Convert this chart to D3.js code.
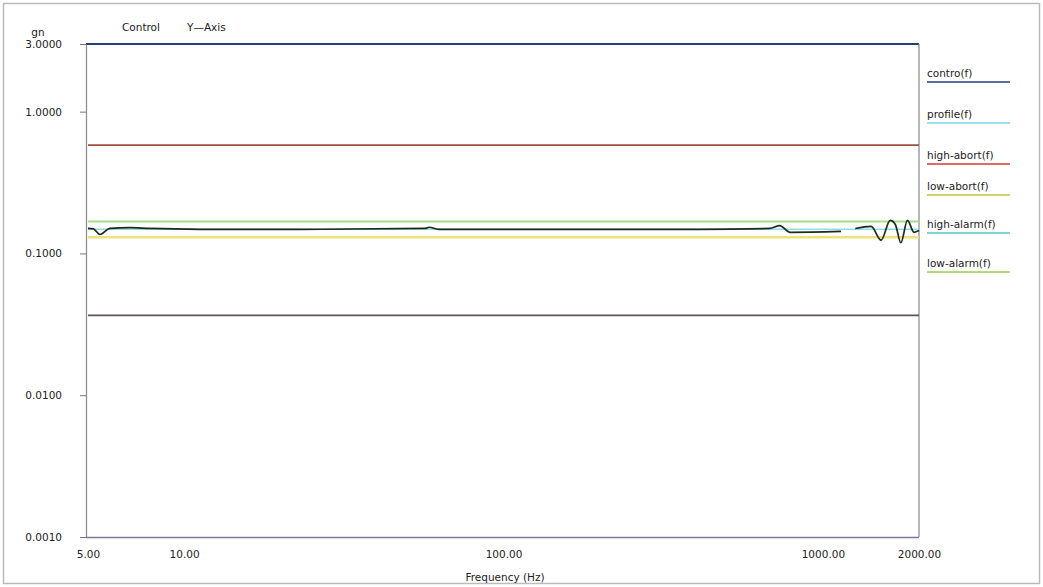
<!DOCTYPE html>
<html>
<head>
<meta charset="utf-8">
<script src="https://cdn.jsdelivr.net/npm/d3@7/dist/d3.min.js"></script>
<style>
  html, body { margin: 0; padding: 0; background: #fff; }
  svg { display: block; }
  text { font-family: "DejaVu Sans", "Liberation Sans", Arial, sans-serif; fill: #222; }
</style>
</head>
<body>
<svg id="chart" width="1043" height="587"></svg>
<script>
// ---- data ----
const xTickValues = [5, 10, 100, 1000, 2000];
const xTickLabels = ["5.00", "10.00", "100.00", "1000.00", "2000.00"];
const yTickValues = [0.001, 0.01, 0.1, 1, 3];
const yTickLabels = ["0.0010", "0.0100", "0.1000", "1.0000", "3.0000"];

const controlFreq = [5.0, 5.2, 5.45, 5.85, 6.76, 7.8, 11.2, 23, 56.7, 58.5, 62.6, 97, 198, 409, 682, 733, 788, 1140, null, 1263, 1416, 1522, 1625, 1686, 1755, 1840, 1930, 2000];
const controlVals = [0.150, 0.149, 0.136, 0.150, 0.152, 0.150, 0.148, 0.148, 0.150, 0.153, 0.148, 0.148, 0.148, 0.148, 0.150, 0.157, 0.141, 0.143, null, 0.150, 0.155, 0.124, 0.171, 0.160, 0.119, 0.171, 0.141, 0.145];

const lineFreq = [5, 2000];
const profileVals = [0.148, 0.148];
const highAbortVals = [0.58, 0.58];
const lowAbortVals = [0.0366, 0.0366];
const highAlarmVals = [0.168, 0.168];
const lowAlarmVals = [0.130, 0.130];

const legendNames = ["contro(f)", "profile(f)", "high-abort(f)", "low-abort(f)", "high-alarm(f)", "low-alarm(f)"];
const legendColors = ["#2a3a8a", "#7fd6e0", "#d03a3a", "#c9bf3a", "#59c6c6", "#9ccc4a"];

// ---- layout ----
const svg = d3.select("#chart");
const W = 1043, H = 587;
const L = 86, R = 919, T = 44, B = 537;
const FS = 10.5;

const x = d3.scaleLog().domain([5, 2000]).range([88, R]);
const y = d3.scaleLog().domain([0.001, 3]).range([B, T]);

// outer frame
svg.append("rect").attr("x", 3.5).attr("y", 3.5).attr("width", W - 7).attr("height", H - 7)
  .attr("fill", "none").attr("stroke", "#bbb").attr("stroke-width", 1.5);

// plot frame
svg.append("line").attr("x1", L).attr("x2", R).attr("y1", T).attr("y2", T)
  .attr("stroke", "#2a3a7a").attr("stroke-width", 1.8);
svg.append("line").attr("x1", R).attr("x2", R).attr("y1", T).attr("y2", B)
  .attr("stroke", "#888").attr("stroke-width", 1.2);

// y axis
const yAxis = d3.axisLeft(y).tickValues(yTickValues)
  .tickFormat((d, i) => yTickLabels[i]).tickSize(6).tickSizeOuter(0);
const gy = svg.append("g").attr("transform", `translate(${L},0)`).call(yAxis);
gy.select(".domain").attr("stroke", "#888").attr("stroke-width", 1.2);
gy.selectAll(".tick line").attr("stroke", "#777");
gy.selectAll(".tick text").attr("x", -24).attr("font-size", FS)
  .attr("font-family", "DejaVu Sans, Liberation Sans, Arial, sans-serif").attr("fill", "#222");

// x axis
const xAxis = d3.axisBottom(x).tickValues(xTickValues)
  .tickFormat((d, i) => xTickLabels[i]).tickSize(0).tickSizeOuter(0);
const gx = svg.append("g").attr("transform", `translate(0,${B})`).call(xAxis);
gx.select(".domain").attr("d", `M${L},0.5H${R}`).attr("stroke", "#7a7a9a").attr("stroke-width", 1.6);
gx.selectAll(".tick text").attr("y", 14).attr("font-size", FS)
  .attr("font-family", "DejaVu Sans, Liberation Sans, Arial, sans-serif").attr("fill", "#222");

// titles
svg.append("text").attr("x", 38).attr("y", 36).attr("font-size", FS).attr("text-anchor", "middle").text("gn");
svg.append("text").attr("x", 122).attr("y", 31).attr("font-size", FS).text("Control");
svg.append("text").attr("x", 187).attr("y", 31).attr("font-size", FS).text("Y\u2014Axis");
svg.append("text").attr("x", 505).attr("y", 581).attr("font-size", FS).attr("text-anchor", "middle").text("Frequency (Hz)");

// reference lines
const flat = d3.line().x((d, i) => x(lineFreq[i])).y(d => y(d));
function ref(vals, color, w) {
  svg.append("path").attr("d", flat(vals)).attr("fill", "none").attr("stroke", color).attr("stroke-width", w);
}
ref(highAbortVals, "#a0503e", 1.8);
ref(lowAbortVals, "#5c5464", 1.8);
ref(highAlarmVals, "#a8dc8c", 2.2);
ref(lowAlarmVals, "#ece27a", 2.4);
ref(profileVals, "#8fdde6", 1.6);

// control line
const ctrl = d3.line()
  .defined((d, i) => d !== null && controlFreq[i] !== null)
  .x((d, i) => x(controlFreq[i])).y(d => y(d))
  .curve(d3.curveMonotoneX);
svg.append("path").attr("d", ctrl(controlVals)).attr("fill", "none")
  .attr("stroke", "#1c2a1c").attr("stroke-width", 1.7);

// legend
const legendBase = [77, 118, 159, 190, 228, 267];
const lg = svg.append("g");
legendNames.forEach((name, i) => {
  const by = legendBase[i];
  lg.append("text").attr("x", 927).attr("y", by).attr("font-size", FS).attr("fill", "#222").text(name);
  lg.append("line").attr("x1", 927).attr("x2", 1010).attr("y1", by + 5).attr("y2", by + 5)
    .attr("stroke", legendColors[i]).attr("stroke-width", 1.6);
});
</script>
</body>
</html>
